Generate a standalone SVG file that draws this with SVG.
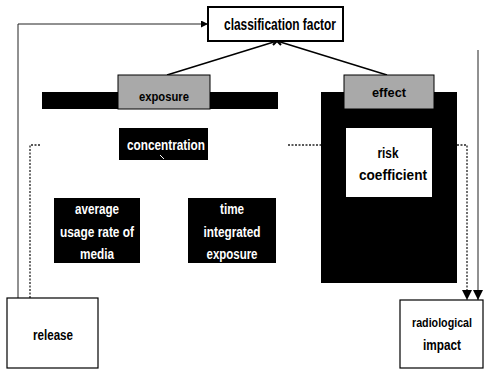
<svg xmlns="http://www.w3.org/2000/svg" width="484" height="370" viewBox="0 0 484 370">
<defs>
<style>
.t{font-family:"Liberation Sans",Arial,sans-serif;font-size:14px;font-weight:bold;text-anchor:middle}
.w{fill:#fff}
.k{fill:#000}
.blk{fill:#000}
.tab{fill:#a9a9a9;stroke:#000;stroke-width:1}
.box{fill:#fff;stroke:#000;stroke-width:1.2}
.ln{fill:none;stroke:#222;stroke-width:1}
.ds{fill:none;stroke:#222;stroke-width:1.3;stroke-dasharray:2 1.5}
</style>
<marker id="ah" viewBox="0 0 10 10" refX="10" refY="5" markerWidth="7" markerHeight="7" orient="auto" markerUnits="userSpaceOnUse">
<path d="M0,0 L10,5 L0,10 z" fill="#000"/>
</marker>
<marker id="ahd" viewBox="0 0 10 10" refX="10" refY="5" markerWidth="10" markerHeight="10" orient="auto" markerUnits="userSpaceOnUse">
<path d="M0,0 L10,5 L0,10 z" fill="#000"/>
</marker>
</defs>
<rect width="484" height="370" fill="#fff"/>

<g id="connectors">
<polyline class="ln" points="18,298 18,24 208,24" marker-end="url(#ah)"/>
<polyline class="ds" points="30,298 30,145 41,145"/>
<line class="ds" x1="288" y1="145" x2="321" y2="145"/>
<polyline class="ds" points="457,145 467,145 467,300" marker-end="url(#ahd)"/>
<line class="ln" x1="478" y1="50" x2="478" y2="300" marker-end="url(#ahd)"/>
<line x1="277" y1="41" x2="167" y2="75" stroke="#000" stroke-width="1.5"/>
<line x1="277" y1="41" x2="387" y2="75" stroke="#000" stroke-width="1.5"/>
<path d="M273,37 L281,45 M281,37 L273,45" stroke="#000" stroke-width="2"/>
</g>

<g id="classification-factor">
<rect x="208" y="7" width="135" height="34" fill="#fff" stroke="#000" stroke-width="2"/>
<text class="t k" x="280" y="30" style="font-size:16px" textLength="112" lengthAdjust="spacingAndGlyphs">classification factor</text>
</g>

<g id="exposure">
<rect class="blk" x="42" y="92" width="236" height="17"/>
<rect class="tab" x="118" y="75" width="92" height="34"/>
<text class="t k" x="164" y="101" style="font-size:13px" textLength="50" lengthAdjust="spacingAndGlyphs">exposure</text>
</g>

<g id="concentration">
<rect class="blk" x="119" y="128" width="89" height="32"/>
<text class="t w" x="166" y="150" textLength="78" lengthAdjust="spacingAndGlyphs">concentration</text>
<line x1="160" y1="155" x2="164" y2="159" stroke="#fff" stroke-width="1"/>
</g>

<g id="average-usage-rate">
<rect class="blk" x="54" y="198" width="86" height="65"/>
<text class="t w" x="97" y="214" textLength="44" lengthAdjust="spacingAndGlyphs">average</text>
<text class="t w" x="97" y="237" textLength="74" lengthAdjust="spacingAndGlyphs">usage rate of</text>
<text class="t w" x="97" y="259" textLength="34" lengthAdjust="spacingAndGlyphs">media</text>
</g>

<g id="time-integrated-exposure">
<rect class="blk" x="188" y="198" width="88" height="65"/>
<text class="t w" x="232" y="214" textLength="24" lengthAdjust="spacingAndGlyphs">time</text>
<text class="t w" x="232" y="237" textLength="57" lengthAdjust="spacingAndGlyphs">integrated</text>
<text class="t w" x="232" y="259" textLength="51" lengthAdjust="spacingAndGlyphs">exposure</text>
</g>

<g id="effect">
<rect class="blk" x="321" y="92" width="136" height="191"/>
<rect class="tab" x="344" y="75" width="90" height="34"/>
<text class="t k" x="389" y="97" style="font-size:13px" textLength="34" lengthAdjust="spacingAndGlyphs">effect</text>
<rect x="346" y="128" width="86" height="69" fill="#fff"/>
<text class="t k" x="388" y="158" textLength="21" lengthAdjust="spacingAndGlyphs">risk</text>
<text class="t k" x="393" y="180" textLength="68" lengthAdjust="spacingAndGlyphs">coefficient</text>
</g>

<g id="release">
<rect class="box" x="7" y="298" width="91" height="70"/>
<text class="t k" x="53" y="340" textLength="40" lengthAdjust="spacingAndGlyphs">release</text>
</g>

<g id="radiological-impact">
<rect class="box" x="400" y="300" width="83" height="68"/>
<text class="t k" x="442" y="327" style="font-size:12.5px" textLength="60" lengthAdjust="spacingAndGlyphs">radiological</text>
<text class="t k" x="442" y="350" textLength="38" lengthAdjust="spacingAndGlyphs">impact</text>
</g>
</svg>
